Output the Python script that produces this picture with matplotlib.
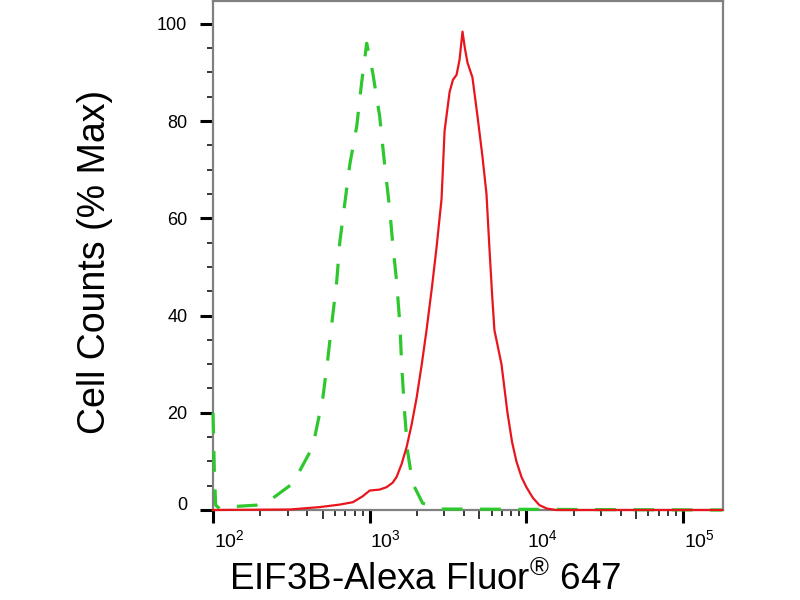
import numpy as np
import matplotlib
matplotlib.use("Agg")
import matplotlib.pyplot as plt
from matplotlib.ticker import FixedLocator, NullFormatter, MultipleLocator
import matplotlib.transforms as mtrans

plt.rcParams['font.family'] = ['Liberation Sans', 'DejaVu Sans']
plt.rcParams['mathtext.fontset'] = 'custom'
plt.rcParams['mathtext.rm'] = 'Liberation Sans'

# isotype control (green dashed) - fluorescence intensity vs % max
ctrl_x = [100, 102, 104, 110, 134, 150, 190, 231, 324, 433, 502, 540, 581, 616,
          644, 693, 746, 827, 889, 957, 1045, 1158, 1246, 1341, 1401, 1485,
          1560, 1599, 1671, 1747, 1879, 2177, 2800, 178000]
ctrl_y = [20, 8, 1, 0.3, 0.7, 0.8, 1.0, 2, 5.5, 13, 23, 31, 40, 47,
          55, 63, 71, 79, 88, 96, 90, 81, 71, 62, 55, 47,
          38, 30, 20, 12, 5.5, 1.4, 0.2, 0]

# EIF3B stained sample (red solid)
eif_x = [100, 309, 481, 640, 780, 900, 1000, 1158, 1282, 1400, 1485, 1600, 1722,
         1850, 1991, 2150, 2306, 2500, 2671, 2875, 3006, 3236, 3400, 3583,
         3744, 3912, 4050, 4210, 4525, 4875, 5248, 5563, 5807, 6050, 6252,
         6934, 7574, 8100, 8636, 9300, 10000, 11000, 12110, 13500, 15530, 178000]
eif_y = [0, 0.1, 0.6, 1.1, 1.6, 2.8, 4, 4.2, 4.7, 5.6, 6.8, 9.5, 13,
         17.5, 23, 30, 37, 46, 54, 64, 78, 86, 88.5, 89.5,
         92.6, 98.4, 95, 92, 89, 81, 72.6, 65, 54, 44, 37,
         30, 20, 14, 10, 6.8, 4.7, 2.5, 1, 0.3, 0, 0]

x_major = [1e2, 1e3, 1e4, 1e5]
x_labels = [r'$\mathregular{10^{2}}$', r'$\mathregular{10^{3}}$',
            r'$\mathregular{10^{4}}$', r'$\mathregular{10^{5}}$']
y_major = [0, 20, 40, 60, 80, 100]

fig = plt.figure(figsize=(8, 6), dpi=100)
ax = fig.add_axes([213 / 800, 90 / 600, 509.5 / 800, 509 / 600])

ax.plot(ctrl_x, ctrl_y, color='#2ec82e', lw=2.3, ls=(0, (6.5, 5.5)),
        clip_on=False, zorder=3)
ax.plot(eif_x, eif_y, color='#e8161c', lw=1.6, clip_on=False, zorder=4)

ax.set_xscale('log')
ax.set_xlim(100, 10 ** 5.2516)
ax.set_ylim(0, 104.7)

for s in ax.spines.values():
    s.set_color('#808080')
    s.set_linewidth(1.6)

ax.xaxis.set_major_locator(FixedLocator(x_major))
ax.set_xticklabels(x_labels, fontsize=14)
minors = [m * 10 ** e for e in range(2, 6) for m in (2, 3, 4, 6, 7, 8, 9)]
ax.xaxis.set_minor_locator(FixedLocator(minors))
ax.xaxis.set_minor_formatter(NullFormatter())
ax.tick_params(axis='x', which='major', length=9.5, width=2.2, color='black', pad=4)
ax.tick_params(axis='x', which='minor', length=4.5, width=1.1, color='black')

# slightly longer ticks at the 5s
sec = ax.secondary_xaxis('bottom')
sec.spines['bottom'].set_visible(False)
sec.set_xticks([5e2, 5e3, 5e4])
sec.set_xticklabels([])
sec.tick_params(length=6.5, width=1.1, color='black')
sec.minorticks_off()

off = mtrans.ScaledTranslation(16 / 100, 0, fig.dpi_scale_trans)
for lab in ax.get_xticklabels():
    lab.set_transform(lab.get_transform() + off)

ax.set_yticks(y_major)
ax.set_yticklabels([str(v) for v in y_major], fontsize=13)
ax.yaxis.set_minor_locator(MultipleLocator(5))
ax.tick_params(axis='y', which='major', length=9.5, width=2.2, color='black', pad=9)
ax.tick_params(axis='y', which='minor', length=4.5, width=1.1, color='black')

# the "0" label sits a little above its tick
up = mtrans.ScaledTranslation(0, 7 / 100, fig.dpi_scale_trans)
zero_lab = ax.get_yticklabels()[0]
zero_lab.set_transform(zero_lab.get_transform() + up)

ax.set_xlabel('EIF3B-Alexa Fluor$^{\u00ae}$ 647', fontsize=26.5)
ax.set_ylabel('Cell Counts (% Max)', fontsize=27)
ax.xaxis.set_label_coords(0.416, -0.1)
ax.yaxis.set_label_coords(-0.197, 0.487)

fig.savefig('out.png', dpi=100)
